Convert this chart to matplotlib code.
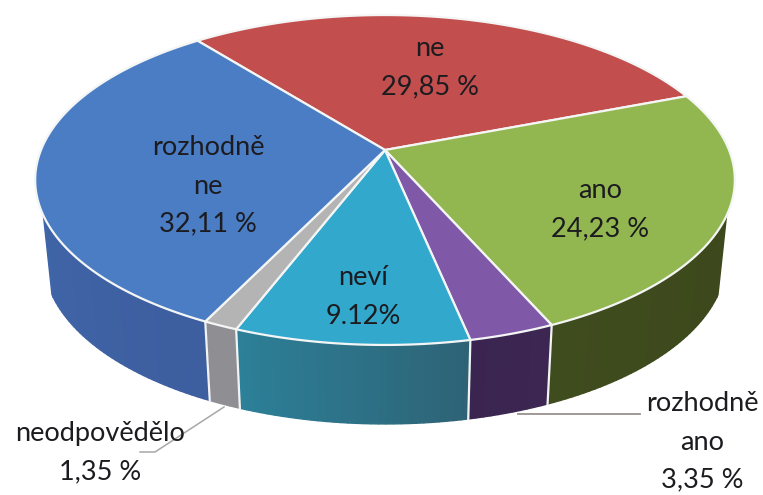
import numpy as np
import matplotlib
matplotlib.use('Agg')
import matplotlib.pyplot as plt
from matplotlib.colors import to_rgb

# clockwise from the blue/red border
names = ['ne', 'ano', 'rozhodně\nano', 'neví', 'neodpovědělo', 'rozhodně\nne']
shown = ['29,85 %', '24,23 %', '3,35 %', '9.12%', '1,35 %', '32,11 %']
values = [29.85, 24.23, 3.35, 9.12, 1.35, 32.11]

top_colors = ['#C24E4D', '#93B750', '#7F59A8', '#31A8CC', '#B4B4B4', '#4A7DC4']
wall_start = ['#7E2F2E', '#3A4519', '#3D2752', '#2E6376', '#8F8F93', '#3D5E9F']
wall_end = ['#7E2F2E', '#3F4C1E', '#3A2550', '#2C8199', '#8F8F93', '#4470B5']
label_xy = [(430, 68), (600, 210), (702, 442), (363, 297), (100, 453), (208, 186)]

# pie geometry in picture pixels
cx, cy = 385, 150
rx, ry = 344, 159.5
persp = 0.1818
depth = 79
inset = 0.975  # bottom rim is a bit narrower
start = 128.5
wall_limit = -0.38


def project(deg):
    t = np.radians(deg)
    s = 1 + persp * np.sin(t)
    return cx + rx * np.cos(t) / s, cy - ry * np.sin(t) / s


def lower(x):
    return cx + (x - cx) * inset


fig = plt.figure(figsize=(7.63, 4.95), dpi=100)
ax = fig.add_axes([0, 0, 1, 1])
ax.set_xlim(0, 763)
ax.set_ylim(495, 0)
ax.axis('off')
plt.rcParams['font.family'] = ['Lato', 'DejaVu Sans']

total = sum(values)
edges = start - np.cumsum([0] + values) / total * 360

# side wall first, the top covers whatever is behind it
for i in range(len(values)):
    a0, a1 = edges[i], edges[i + 1]
    angles = np.linspace(a0, a1, max(int(abs(a1 - a0)), 4))
    c0, c1 = np.array(to_rgb(wall_start[i])), np.array(to_rgb(wall_end[i]))
    for j in range(len(angles) - 1):
        if np.sin(np.radians(angles[j])) > wall_limit or np.sin(np.radians(angles[j + 1])) > wall_limit:
            continue
        x0, y0 = project(angles[j])
        x1, y1 = project(angles[j + 1])
        f = j / (len(angles) - 1)
        ax.fill([x0, x1, lower(x1), lower(x0)], [y0, y1, y1 + depth, y0 + depth],
                color=c0 + (c1 - c0) * f, lw=1.0, zorder=1)

# white seams between the wall pieces
for a in edges[:-1]:
    if np.sin(np.radians(a)) < wall_limit:
        x0, y0 = project(a)
        ax.plot([x0, lower(x0)], [y0, y0 + depth], color='#F2F4F4', lw=1.6, zorder=2)

# top of the pie
for i in range(len(values)):
    angles = np.linspace(edges[i], edges[i + 1], 120)
    x, y = project(angles)
    ax.fill(np.r_[cx, x], np.r_[cy, y], facecolor=top_colors[i],
            edgecolor='#F4F5F5', lw=1.6, joinstyle='round', zorder=3)

# leader lines
ax.plot([224, 155, 140], [407, 452, 452], color='#A9A6A6', lw=1.1, zorder=4)
ax.plot([518, 640], [414, 414], color='#9A9090', lw=1.3, zorder=4)

for name, val, (lx, ly) in zip(names, shown, label_xy):
    ax.text(lx, ly, name + '\n' + val, ha='center', va='center', fontsize=19.5,
            color='#1C1C20', linespacing=1.66, zorder=5)

fig.savefig('out.png', dpi=100)
